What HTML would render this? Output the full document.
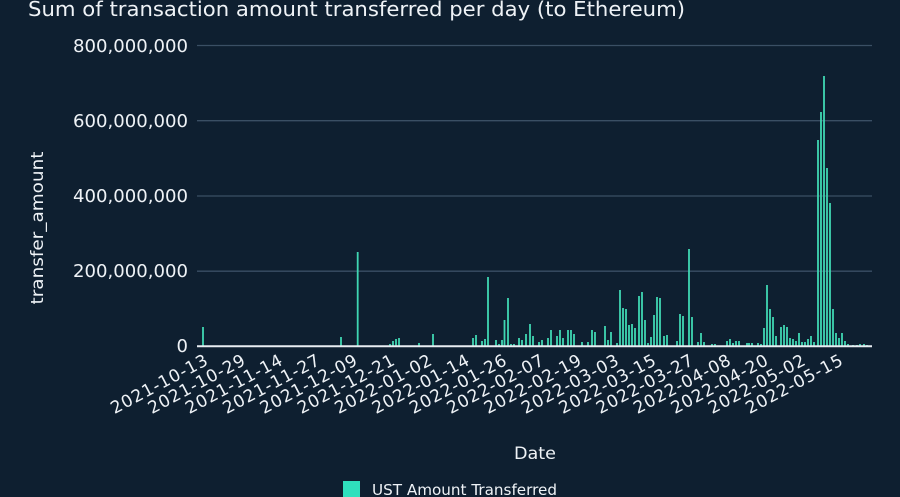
<!DOCTYPE html>
<html><head><meta charset="utf-8"><style>
html,body{margin:0;padding:0;background:#0e1f30;}
svg{display:block;font-family:"DejaVu Sans","Liberation Sans",sans-serif;}
</style></head><body>
<svg width="900" height="497" viewBox="0 0 900 497" xmlns="http://www.w3.org/2000/svg">
<rect width="900" height="497" fill="#0e1f30"/>
<text x="28" y="16" fill="#eef2f6" font-size="20" textLength="657" lengthAdjust="spacingAndGlyphs">Sum of transaction amount transferred per day (to Ethereum)</text>
<g stroke="#3a4f64" stroke-width="1.3">
<line x1="197" y1="45.5" x2="872" y2="45.5"/>
<line x1="197" y1="120.7" x2="872" y2="120.7"/>
<line x1="197" y1="196" x2="872" y2="196"/>
<line x1="197" y1="271.2" x2="872" y2="271.2"/>
</g>
<g fill="#eef2f6" font-size="18" text-anchor="end">
<text x="188" y="52" textLength="115" lengthAdjust="spacingAndGlyphs">800,000,000</text>
<text x="188" y="127" textLength="115" lengthAdjust="spacingAndGlyphs">600,000,000</text>
<text x="188" y="202" textLength="115" lengthAdjust="spacingAndGlyphs">400,000,000</text>
<text x="188" y="277" textLength="115" lengthAdjust="spacingAndGlyphs">200,000,000</text>
<text x="188" y="352">0</text>
</g>
<text transform="translate(43,228) rotate(-90)" fill="#eef2f6" font-size="17" text-anchor="middle" textLength="153" lengthAdjust="spacingAndGlyphs">transfer_amount</text>
<g fill="#3fd6b2">
<rect x="202.1" y="327" width="1.8" height="19"/>
<rect x="340.1" y="337" width="1.8" height="9"/>
<rect x="356.8" y="252" width="1.8" height="94"/>
<rect x="389.1" y="344" width="1.8" height="2"/>
<rect x="392.1" y="341" width="1.8" height="5"/>
<rect x="395.1" y="339" width="1.8" height="7"/>
<rect x="398.1" y="338" width="1.8" height="8"/>
<rect x="418.1" y="343" width="1.8" height="3"/>
<rect x="432.1" y="334" width="1.8" height="12"/>
<rect x="472.1" y="338" width="1.8" height="8"/>
<rect x="475.1" y="335" width="1.8" height="11"/>
<rect x="481.1" y="341" width="1.8" height="5"/>
<rect x="484.1" y="339" width="1.8" height="7"/>
<rect x="487.1" y="277" width="1.8" height="69"/>
<rect x="495.1" y="340" width="1.8" height="6"/>
<rect x="498.1" y="344" width="1.8" height="2"/>
<rect x="501.1" y="340" width="1.8" height="6"/>
<rect x="503.6" y="320" width="1.8" height="26"/>
<rect x="507.1" y="298" width="1.8" height="48"/>
<rect x="510.1" y="344" width="1.8" height="2"/>
<rect x="513.1" y="344" width="1.8" height="2"/>
<rect x="518.1" y="338" width="1.8" height="8"/>
<rect x="521.1" y="340" width="1.8" height="6"/>
<rect x="525.1" y="334" width="1.8" height="12"/>
<rect x="529.1" y="324" width="1.8" height="22"/>
<rect x="532.1" y="336" width="1.8" height="10"/>
<rect x="538.1" y="342" width="1.8" height="4"/>
<rect x="541.1" y="340" width="1.8" height="6"/>
<rect x="547.1" y="338" width="1.8" height="8"/>
<rect x="550.1" y="330" width="1.8" height="16"/>
<rect x="556.1" y="336" width="1.8" height="10"/>
<rect x="559.1" y="330" width="1.8" height="16"/>
<rect x="562.1" y="338" width="1.8" height="8"/>
<rect x="567.1" y="330" width="1.8" height="16"/>
<rect x="570.1" y="330" width="1.8" height="16"/>
<rect x="573.1" y="334" width="1.8" height="12"/>
<rect x="581.1" y="342" width="1.8" height="4"/>
<rect x="587.1" y="342" width="1.8" height="4"/>
<rect x="591.1" y="330" width="1.8" height="16"/>
<rect x="594.1" y="332" width="1.8" height="14"/>
<rect x="604.1" y="326" width="1.8" height="20"/>
<rect x="607.1" y="340" width="1.8" height="6"/>
<rect x="610.1" y="332" width="1.8" height="14"/>
<rect x="616.1" y="343" width="1.8" height="3"/>
<rect x="619.1" y="290" width="1.8" height="56"/>
<rect x="622.1" y="308" width="1.8" height="38"/>
<rect x="625.1" y="309" width="1.8" height="37"/>
<rect x="628.1" y="325" width="1.8" height="21"/>
<rect x="631.1" y="324" width="1.8" height="22"/>
<rect x="634.1" y="328" width="1.8" height="18"/>
<rect x="638.1" y="296" width="1.8" height="50"/>
<rect x="641.1" y="292" width="1.8" height="54"/>
<rect x="644.1" y="320" width="1.8" height="26"/>
<rect x="647.1" y="343" width="1.8" height="3"/>
<rect x="650.1" y="337" width="1.8" height="9"/>
<rect x="653.1" y="315" width="1.8" height="31"/>
<rect x="656.1" y="297" width="1.8" height="49"/>
<rect x="659.1" y="298" width="1.8" height="48"/>
<rect x="663.1" y="336" width="1.8" height="10"/>
<rect x="666.1" y="335" width="1.8" height="11"/>
<rect x="676.1" y="341" width="1.8" height="5"/>
<rect x="679.1" y="314" width="1.8" height="32"/>
<rect x="682.1" y="316" width="1.8" height="30"/>
<rect x="688.1" y="249" width="1.8" height="97"/>
<rect x="691.1" y="317" width="1.8" height="29"/>
<rect x="697.1" y="342" width="1.8" height="4"/>
<rect x="700.1" y="333" width="1.8" height="13"/>
<rect x="703.1" y="342" width="1.8" height="4"/>
<rect x="711.1" y="344" width="1.8" height="2"/>
<rect x="714.1" y="344" width="1.8" height="2"/>
<rect x="726.1" y="341" width="1.8" height="5"/>
<rect x="729.1" y="339" width="1.8" height="7"/>
<rect x="732.1" y="343" width="1.8" height="3"/>
<rect x="735.1" y="341" width="1.8" height="5"/>
<rect x="738.1" y="341" width="1.8" height="5"/>
<rect x="746.1" y="343" width="1.8" height="3"/>
<rect x="748.1" y="343" width="1.8" height="3"/>
<rect x="751.1" y="343" width="1.8" height="3"/>
<rect x="757.1" y="343" width="1.8" height="3"/>
<rect x="760.1" y="344" width="1.8" height="2"/>
<rect x="763.1" y="328" width="1.8" height="18"/>
<rect x="766.1" y="285" width="1.8" height="61"/>
<rect x="769.1" y="309" width="1.8" height="37"/>
<rect x="772.1" y="317" width="1.8" height="29"/>
<rect x="775.1" y="336" width="1.8" height="10"/>
<rect x="780.1" y="327" width="1.8" height="19"/>
<rect x="783.1" y="325" width="1.8" height="21"/>
<rect x="786.1" y="327" width="1.8" height="19"/>
<rect x="789.1" y="338" width="1.8" height="8"/>
<rect x="792.1" y="339" width="1.8" height="7"/>
<rect x="795.1" y="341" width="1.8" height="5"/>
<rect x="798.1" y="333" width="1.8" height="13"/>
<rect x="801.1" y="342" width="1.8" height="4"/>
<rect x="804.1" y="342" width="1.8" height="4"/>
<rect x="807.1" y="339" width="1.8" height="7"/>
<rect x="810.1" y="336" width="1.8" height="10"/>
<rect x="813.1" y="342" width="1.8" height="4"/>
<rect x="817.1" y="140" width="1.8" height="206"/>
<rect x="820.1" y="112" width="1.8" height="234"/>
<rect x="823.1" y="76" width="1.8" height="270"/>
<rect x="826.1" y="168" width="1.8" height="178"/>
<rect x="829.1" y="203" width="1.8" height="143"/>
<rect x="832.1" y="309" width="1.8" height="37"/>
<rect x="835.1" y="333" width="1.8" height="13"/>
<rect x="838.1" y="338" width="1.8" height="8"/>
<rect x="841.1" y="333" width="1.8" height="13"/>
<rect x="844.1" y="341" width="1.8" height="5"/>
<rect x="847.1" y="344" width="1.8" height="2"/>
<rect x="852.1" y="345" width="1.8" height="1"/>
<rect x="856.1" y="345" width="1.8" height="1"/>
<rect x="859.1" y="344" width="1.8" height="2"/>
<rect x="863.1" y="344" width="1.8" height="2"/>
<rect x="866.1" y="345" width="1.8" height="1"/>
</g>
<line x1="197" y1="346.3" x2="872" y2="346.3" stroke="#e8edf2" stroke-width="2"/>
<g fill="#eef2f6" font-size="17" text-anchor="end" lengthAdjust="spacingAndGlyphs">
<text transform="translate(209,364) rotate(-28)" textLength="107">2021-10-13</text>
<text transform="translate(246.4,364) rotate(-28)" textLength="107">2021-10-29</text>
<text transform="translate(283.7,364) rotate(-28)" textLength="107">2021-11-14</text>
<text transform="translate(321.1,364) rotate(-28)" textLength="107">2021-11-27</text>
<text transform="translate(358.4,364) rotate(-28)" textLength="107">2021-12-09</text>
<text transform="translate(395.8,364) rotate(-28)" textLength="107">2021-12-21</text>
<text transform="translate(433.1,364) rotate(-28)" textLength="107">2022-01-02</text>
<text transform="translate(470.5,364) rotate(-28)" textLength="107">2022-01-14</text>
<text transform="translate(507.8,364) rotate(-28)" textLength="107">2022-01-26</text>
<text transform="translate(545.2,364) rotate(-28)" textLength="107">2022-02-07</text>
<text transform="translate(582.5,364) rotate(-28)" textLength="107">2022-02-19</text>
<text transform="translate(619.9,364) rotate(-28)" textLength="107">2022-03-03</text>
<text transform="translate(657.2,364) rotate(-28)" textLength="107">2022-03-15</text>
<text transform="translate(694.6,364) rotate(-28)" textLength="107">2022-03-27</text>
<text transform="translate(731.9,364) rotate(-28)" textLength="107">2022-04-08</text>
<text transform="translate(769.3,364) rotate(-28)" textLength="107">2022-04-20</text>
<text transform="translate(806.6,364) rotate(-28)" textLength="107">2022-05-02</text>
<text transform="translate(844,364) rotate(-28)" textLength="107">2022-05-15</text>
</g>
<text x="514" y="459" fill="#eef2f6" font-size="17" textLength="42" lengthAdjust="spacingAndGlyphs">Date</text>
<rect x="343" y="481" width="17" height="16" fill="#2fe0bd"/>
<text x="372" y="495" fill="#eef2f6" font-size="15" textLength="185" lengthAdjust="spacingAndGlyphs">UST Amount Transferred</text>
</svg>
</body></html>
